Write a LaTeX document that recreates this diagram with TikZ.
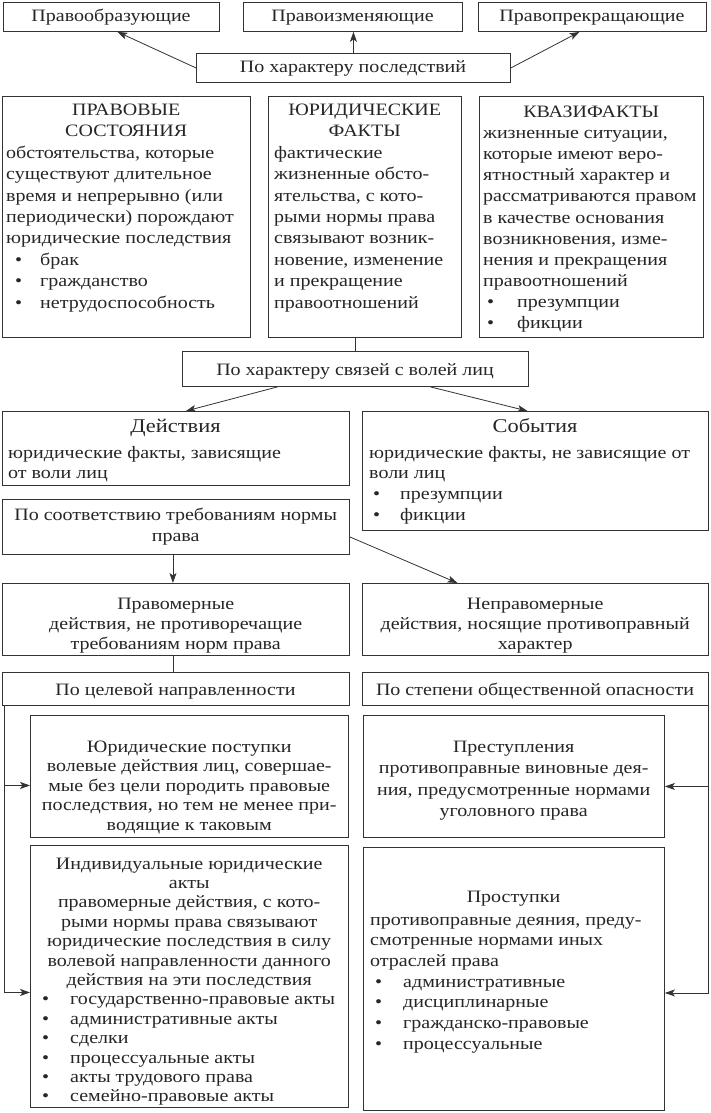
\documentclass[tikz,border=0pt]{standalone}
\usepackage{fontspec}
\setmainfont{Liberation Serif}[FakeStretch=1.15]
\usetikzlibrary{arrows.meta}
\newcommand\bl[2]{\hspace*{#1pt}\makebox[#2pt][l]{•}}
\begin{document}
\begin{tikzpicture}[x=1pt,y=-1pt,
  font=\fontsize{17.4}{21.4}\selectfont, color=black!85,
  bx/.style={draw=black!80, line width=0.9pt, inner sep=0pt, anchor=north west},
  tx/.style={inner sep=0pt, anchor=base west},
  ct/.style={inner sep=0pt, anchor=base},
  hd/.style={inner sep=0pt, anchor=base, font=\fontsize{19.5}{22}\selectfont},
  ln/.style={draw=black!80, line width=0.8pt},
  arr/.style={draw=black!80, line width=0.8pt, -{Stealth[length=10pt,width=7pt,inset=2.5pt]}}]
\useasboundingbox (0,0) rectangle (710,1113);
\fill[white] (0,0) rectangle (710,1113);
% row 0
\node[bx, minimum width=216pt, minimum height=29pt] (A) at (3,2) {};
\node[ct] (At) at (111,22) {Правообразующие};
\node[bx, minimum width=219pt, minimum height=29pt] (B) at (243,2) {};
\node[ct] (Bt) at (352.5,22) {Правоизменяющие};
\node[bx, minimum width=228pt, minimum height=29pt] (C) at (478,2) {};
\node[ct] (Ct) at (592,22) {Правопрекращающие};
\node[bx, minimum width=314pt, minimum height=29pt] (D) at (196,53) {};
\node[ct] (Dt) at (353,73) {По характеру последствий};
% row 1
\node[bx, minimum width=248pt, minimum height=241pt] (E) at (2,96) {};
\node[tx] (Et) at (6,115.5) {\parbox[t]{240pt}{\raggedright
\centerline{ПРАВОВЫЕ}\centerline{СОСТОЯНИЯ}
обстоятельства, которые\\
существуют длительное\\
время и непрерывно (или\\
периодически) порождают\\
юридические последствия\\
\bl{9}{25}брак\\
\bl{9}{25}гражданство\\
\bl{9}{25}нетрудоспособность}};
\node[bx, minimum width=193pt, minimum height=241pt] (F) at (268,96) {};
\node[tx] (Ft) at (274,115.5) {\parbox[t]{181pt}{\raggedright
\centerline{ЮРИДИЧЕСКИЕ}\centerline{ФАКТЫ}
фактические\\
жизненные обсто-\\
ятельства, с кото-\\
рыми нормы права\\
связывают возник-\\
новение, изменение\\
и прекращение\\
правоотношений}};
\node[bx, minimum width=224pt, minimum height=241pt] (G) at (479,96) {};
\node[tx] (Gt) at (483,117.5) {\parbox[t]{216pt}{\fontsize{17.4}{21.1}\selectfont\raggedright
\centerline{КВАЗИФАКТЫ}
жизненные ситуации,\\
которые имеют веро-\\
ятностный характер и\\
рассматриваются правом\\
в качестве основания\\
возникновения, изме-\\
нения и прекращения\\
правоотношений\\
\bl{4}{30}презумпции\\
\bl{4}{30}фикции}};
% row 2
\node[bx, minimum width=346pt, minimum height=35pt] (H) at (182,351) {};
\node[ct] (Ht) at (355,375) {По характеру связей с волей лиц};
\node[bx, minimum width=347pt, minimum height=74pt] (I) at (2,411) {};
\node[hd] (Ih) at (175.5,432) {Действия};
\node[tx] (It) at (8,458) {\parbox[t]{335pt}{\fontsize{17.4}{20.5}\selectfont\raggedright
юридические факты, зависящие\\
от воли лиц}};
\node[bx, minimum width=346pt, minimum height=119pt] (J) at (362,411) {};
\node[hd] (Jh) at (535,432) {События};
\node[tx] (Jt) at (369,458) {\parbox[t]{335pt}{\fontsize{17.4}{20.7}\selectfont\raggedright
юридические факты, не зависящие от\\
воли лиц\\
\bl{4}{27}презумпции\\
\bl{4}{27}фикции}};
\node[bx, minimum width=347pt, minimum height=55pt] (K) at (2,499) {};
\node[tx] (Kt) at (6,520) {\parbox[t]{339pt}{\fontsize{17.4}{21.5}\selectfont
\centerline{По соответствию требованиям нормы}\centerline{права}}};
\node[bx, minimum width=347pt, minimum height=72pt] (L) at (2,583) {};
\node[tx] (Lt) at (6,609) {\parbox[t]{339pt}{\fontsize{17.4}{20}\selectfont
\centerline{Правомерные}\centerline{действия, не противоречащие}\centerline{требованиям норм права}}};
\node[bx, minimum width=346pt, minimum height=72pt] (M) at (362,583) {};
\node[tx] (Mt) at (366,609) {\parbox[t]{338pt}{\fontsize{17.4}{20}\selectfont
\centerline{Неправомерные}\centerline{действия, носящие противоправный}\centerline{характер}}};
\node[bx, minimum width=347pt, minimum height=33pt] (N) at (2,672) {};
\node[ct] (Nt) at (175.5,695) {По целевой направленности};
\node[bx, minimum width=346pt, minimum height=33pt] (O) at (362,672) {};
\node[ct] (Ot) at (535,695) {По степени общественной опасности};
% lower boxes
\node[bx, minimum width=318pt, minimum height=122pt] (P) at (30,715) {};
\node[tx] (Pt) at (34,752) {\parbox[t]{310pt}{\fontsize{17.4}{19.6}\selectfont
\centerline{Юридические поступки}
\centerline{волевые действия лиц, совершае-}
\centerline{мые без цели породить правовые}
\centerline{последствия, но тем не менее при-}
\centerline{водящие к таковым}}};
\node[bx, minimum width=318pt, minimum height=262pt] (Q) at (30,845) {};
\node[tx] (Qt) at (34,869) {\parbox[t]{310pt}{\fontsize{17.4}{19.4}\selectfont\raggedright
\centerline{Индивидуальные юридические}
\centerline{акты}
\centerline{правомерные действия, с кото-}
\centerline{рыми нормы права связывают}
\centerline{юридические последствия в силу}
\centerline{волевой направленности данного}
\centerline{действия на эти последствия}
\bl{8}{28}государственно-правовые акты\\
\bl{8}{28}административные акты\\
\bl{8}{28}сделки\\
\bl{8}{28}процессуальные акты\\
\bl{8}{28}акты трудового права\\
\bl{8}{28}семейно-правовые акты}};
\node[bx, minimum width=301pt, minimum height=122pt] (R) at (363,715) {};
\node[tx] (Rt) at (367,752) {\parbox[t]{293pt}{\fontsize{17.4}{21.5}\selectfont
\centerline{Преступления}
\centerline{противоправные виновные дея-}
\centerline{ния, предусмотренные нормами}
\centerline{уголовного права}}};
\node[bx, minimum width=301pt, minimum height=263pt] (S) at (363,847) {};
\node[ct] (Sh) at (513.5,902) {Проступки};
\node[tx] (St) at (370,925) {\parbox[t]{290pt}{\fontsize{17.4}{20.7}\selectfont\raggedright
противоправные деяния, преду-\\
смотренные нормами иных\\
отраслей права\\
\bl{5}{28}административные\\
\bl{5}{28}дисциплинарные\\
\bl{5}{28}гражданско-правовые\\
\bl{5}{28}процессуальные}};
% connectors
\draw[arr] (D.west) -- ([xshift=6pt]A.south);
\draw[arr] (D.north) -- (D.north |- B.south);
\draw[arr] (D.east) -- ([xshift=-13pt]C.south);
\draw[ln] (H.north) -- (H.north |- F.south);
\draw[arr] ([xshift=-78pt]H.south) -- ([xshift=10pt]I.north);
\draw[arr] ([xshift=75pt]H.south) -- ([xshift=-8pt]J.north);
\draw[arr] ([yshift=-10pt]K.east) -- ([xshift=-78pt]M.north);
\draw[arr] ([xshift=-3pt]K.south) -- ([xshift=-3pt]L.north);
\draw[ln] ([xshift=-3pt]L.south) -- ([xshift=-3pt]N.north);
\coordinate (nl) at ([xshift=2pt]N.south west);
\coordinate (pa) at ([yshift=-9pt]P.west);
\coordinate (qa) at ([yshift=-16pt]Q.west);
\draw[arr] (nl) |- (qa);
\draw[arr] (nl |- pa) -- (pa);
\coordinate (orr) at ([xshift=-1pt]O.south east);
\coordinate (ra) at ([yshift=-10pt]R.east);
\coordinate (sa) at ([yshift=-14pt]S.east);
\draw[arr] (orr) |- (sa);
\draw[arr] (orr |- ra) -- (ra);
\end{tikzpicture}
\end{document}
